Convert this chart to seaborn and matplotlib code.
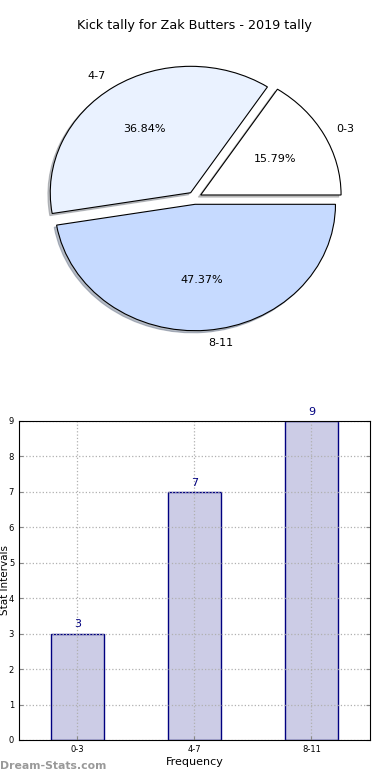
import matplotlib
matplotlib.use("Agg")
import matplotlib.pyplot as plt
import seaborn as sns
import pandas as pd

categories = ["0-3", "4-7", "8-11"]
counts = [3, 7, 9]
pie_colors = ["#FFFFFF", "#EAF2FF", "#C6DAFF"]
title = "Kick tally for Zak Butters - 2019 tally"

sns.set_style("white")
plt.rcParams["font.family"] = ["DejaVu Sans"]
plt.rcParams["text.color"] = "black"
plt.rcParams["axes.labelcolor"] = "black"
plt.rcParams["xtick.color"] = "black"
plt.rcParams["ytick.color"] = "black"

fig = plt.figure(figsize=(3.9, 7.8), dpi=100)

# Pie
ax1 = fig.add_axes([0.0487, 0.5436, 0.9, 0.4051])
wedges, texts, autotexts = ax1.pie(
    counts, labels=categories, colors=pie_colors, explode=[0.05] * 3,
    shadow={"ox": -0.012, "oy": -0.012, "shade": 0.45},
    autopct="%1.2f%%", startangle=0,
    wedgeprops=dict(edgecolor="black", linewidth=0.8),
    textprops=dict(fontsize=8, color="black"),
)
ax1.set_aspect("auto")
ax1.set_xlim(-1.25, 1.25)
ax1.set_ylim(-1.25, 1.25)
ax1.set_title(title, fontsize=9.2, pad=8, color="black")

# Bars
ax2 = fig.add_axes([0.0487, 0.0513, 0.9, 0.409])
df = pd.DataFrame({"cat": categories, "count": counts})
sns.barplot(data=df, x="cat", y="count", ax=ax2, color="#CCCCE6", saturation=1,
            width=0.45, edgecolor="navy", linewidth=1)
ax2.set_xlim(-0.5, 2.5)
ax2.set_ylim(0, 9)
ax2.set_yticks(range(0, 10))
ax2.grid(True, linestyle=":", color="#B0B0B0", linewidth=0.9)
ax2.set_axisbelow(False)
for p in ax2.patches:
    p.set_zorder(1)
for line in ax2.get_xgridlines() + ax2.get_ygridlines():
    line.set_zorder(2)
for spine in ax2.spines.values():
    spine.set_visible(True)
    spine.set_color("black")
    spine.set_linewidth(0.8)
    spine.set_zorder(4)
ax2.tick_params(axis="both", labelsize=6, direction="in", length=3,
                right=True, top=False, left=True, bottom=True, color="#888888",
                labelcolor="black")
for i, v in enumerate(counts):
    ax2.text(i, v + 0.12, str(v), ha="center", va="bottom", color="navy", fontsize=8)
ax2.set_xlabel("Frequency", fontsize=8, labelpad=2)
ax2.set_ylabel("Stat Intervals", fontsize=7.5)
ax2.yaxis.set_label_coords(-0.025, 0.5)

fig.text(0.0, 0.0115, "Dream-Stats.com", fontsize=7.8, color="#999999",
         fontweight="bold", ha="left", va="bottom")

fig.savefig("out.png", dpi=100)
